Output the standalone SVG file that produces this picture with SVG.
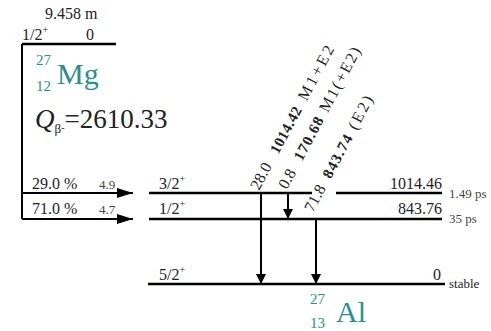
<svg xmlns="http://www.w3.org/2000/svg" width="491" height="331" viewBox="0 0 491 331">
<defs>
<marker id="ah" viewBox="0 0 10 10" refX="10" refY="5" markerWidth="10" markerHeight="10" markerUnits="userSpaceOnUse" orient="auto"><path d="M0,0 L10,5 L0,10 Z" fill="#000"/></marker>
<marker id="ahb" viewBox="0 0 16 10" refX="16" refY="5" markerWidth="16" markerHeight="10" markerUnits="userSpaceOnUse" orient="auto"><path d="M0,0 L16,5 L0,10 Z" fill="#000"/></marker>
</defs>
<style>
text{font-family:"Liberation Serif","Times New Roman",serif;fill:#222}
.t{font-size:16px}
.s{font-size:13px;fill:#444}
.teal{fill:#2a8f8f}
.lv{stroke:#000;stroke-width:2.5;fill:none}
.tr{stroke:#000;stroke-width:2;fill:none}
.rt{font-size:16px}
.b{font-weight:bold;font-size:15px}
</style>
<rect width="491" height="331" fill="#fff"/>
<g id="parent">
<line class="lv" x1="22" y1="44" x2="116" y2="44"/>
<text class="t" x="45" y="19">9.458 m</text>
<text class="t" x="22" y="40">1/2<tspan font-size="10" dy="-7">+</tspan></text>
<text class="t" x="86" y="40">0</text>
<text class="teal" x="36" y="65" font-size="15">27</text>
<text class="teal" x="36" y="91" font-size="15">12</text>
<text class="teal" x="57" y="84" font-size="30">Mg</text>
<text x="35" y="128" font-size="27"><tspan font-style="italic">Q</tspan><tspan font-size="13" dy="5">β</tspan><tspan font-size="10" dy="-2">-</tspan><tspan dy="-3">=2610.33</tspan></text>
</g>
<g id="level-1014">
<line class="lv" x1="149" y1="193" x2="312" y2="193"/>
<line class="lv" x1="336" y1="193" x2="442" y2="193"/>
<text class="t" x="159" y="189">3/2<tspan font-size="10" dy="-7">+</tspan></text>
<text class="t" x="442" y="189" text-anchor="end">1014.46</text>
<text class="s" x="449" y="198">1.49 ps</text>
</g>
<g id="level-843">
<line class="lv" x1="149" y1="219" x2="442" y2="219"/>
<text class="t" x="159" y="214">1/2<tspan font-size="10" dy="-7">+</tspan></text>
<text class="t" x="442" y="214" text-anchor="end">843.76</text>
<text class="s" x="449" y="223">35 ps</text>
</g>
<g id="level-0">
<line class="lv" x1="148" y1="284" x2="445" y2="284"/>
<text class="t" x="159" y="280">5/2<tspan font-size="10" dy="-7">+</tspan></text>
<text class="t" x="433" y="280">0</text>
<text x="449" y="288" font-size="13">stable</text>
<text class="teal" x="310" y="304" font-size="15">27</text>
<text class="teal" x="310" y="328" font-size="15">13</text>
<text class="teal" x="336" y="322" font-size="30">Al</text>
</g>
<g id="connectors">
<polyline class="tr" points="22,44 22,219"/>
<line class="tr" x1="22" y1="193" x2="133" y2="193" marker-end="url(#ahb)"/>
<line class="tr" x1="22" y1="219" x2="133" y2="219" marker-end="url(#ahb)"/>
<line class="tr" x1="261" y1="193" x2="261" y2="284" marker-end="url(#ah)"/>
<line class="tr" x1="288" y1="193" x2="288" y2="219" marker-end="url(#ah)"/>
<line class="tr" x1="316" y1="219" x2="316" y2="284" marker-end="url(#ah)"/>
</g>
<g id="labels">
<text class="t" x="32" y="189">29.0 %</text>
<text class="s" x="99" y="189">4.9</text>
<text class="t" x="32" y="214">71.0 %</text>
<text class="s" x="99" y="214">4.7</text>
<g transform="translate(259,191) rotate(-62)">
<text class="rt" x="0" y="0">28.0</text>
<text class="rt b" x="41" y="0" textLength="51">1014.42</text>
<text class="rt" x="101" y="0" textLength="60">M1+E2</text>
</g>
<g transform="translate(287,190) rotate(-62)">
<text class="rt" x="0" y="0">0.8</text>
<text class="rt b" x="32" y="0" textLength="47">170.68</text>
<text class="rt" x="87" y="0" textLength="71">M1(+E2)</text>
</g>
<g transform="translate(313,213) rotate(-62)">
<text class="rt" x="0" y="0">71.8</text>
<text class="rt b" x="38" y="0" textLength="47">843.74</text>
<text class="rt" x="93" y="0" textLength="36">(E2)</text>
</g>
</g>
</svg>
